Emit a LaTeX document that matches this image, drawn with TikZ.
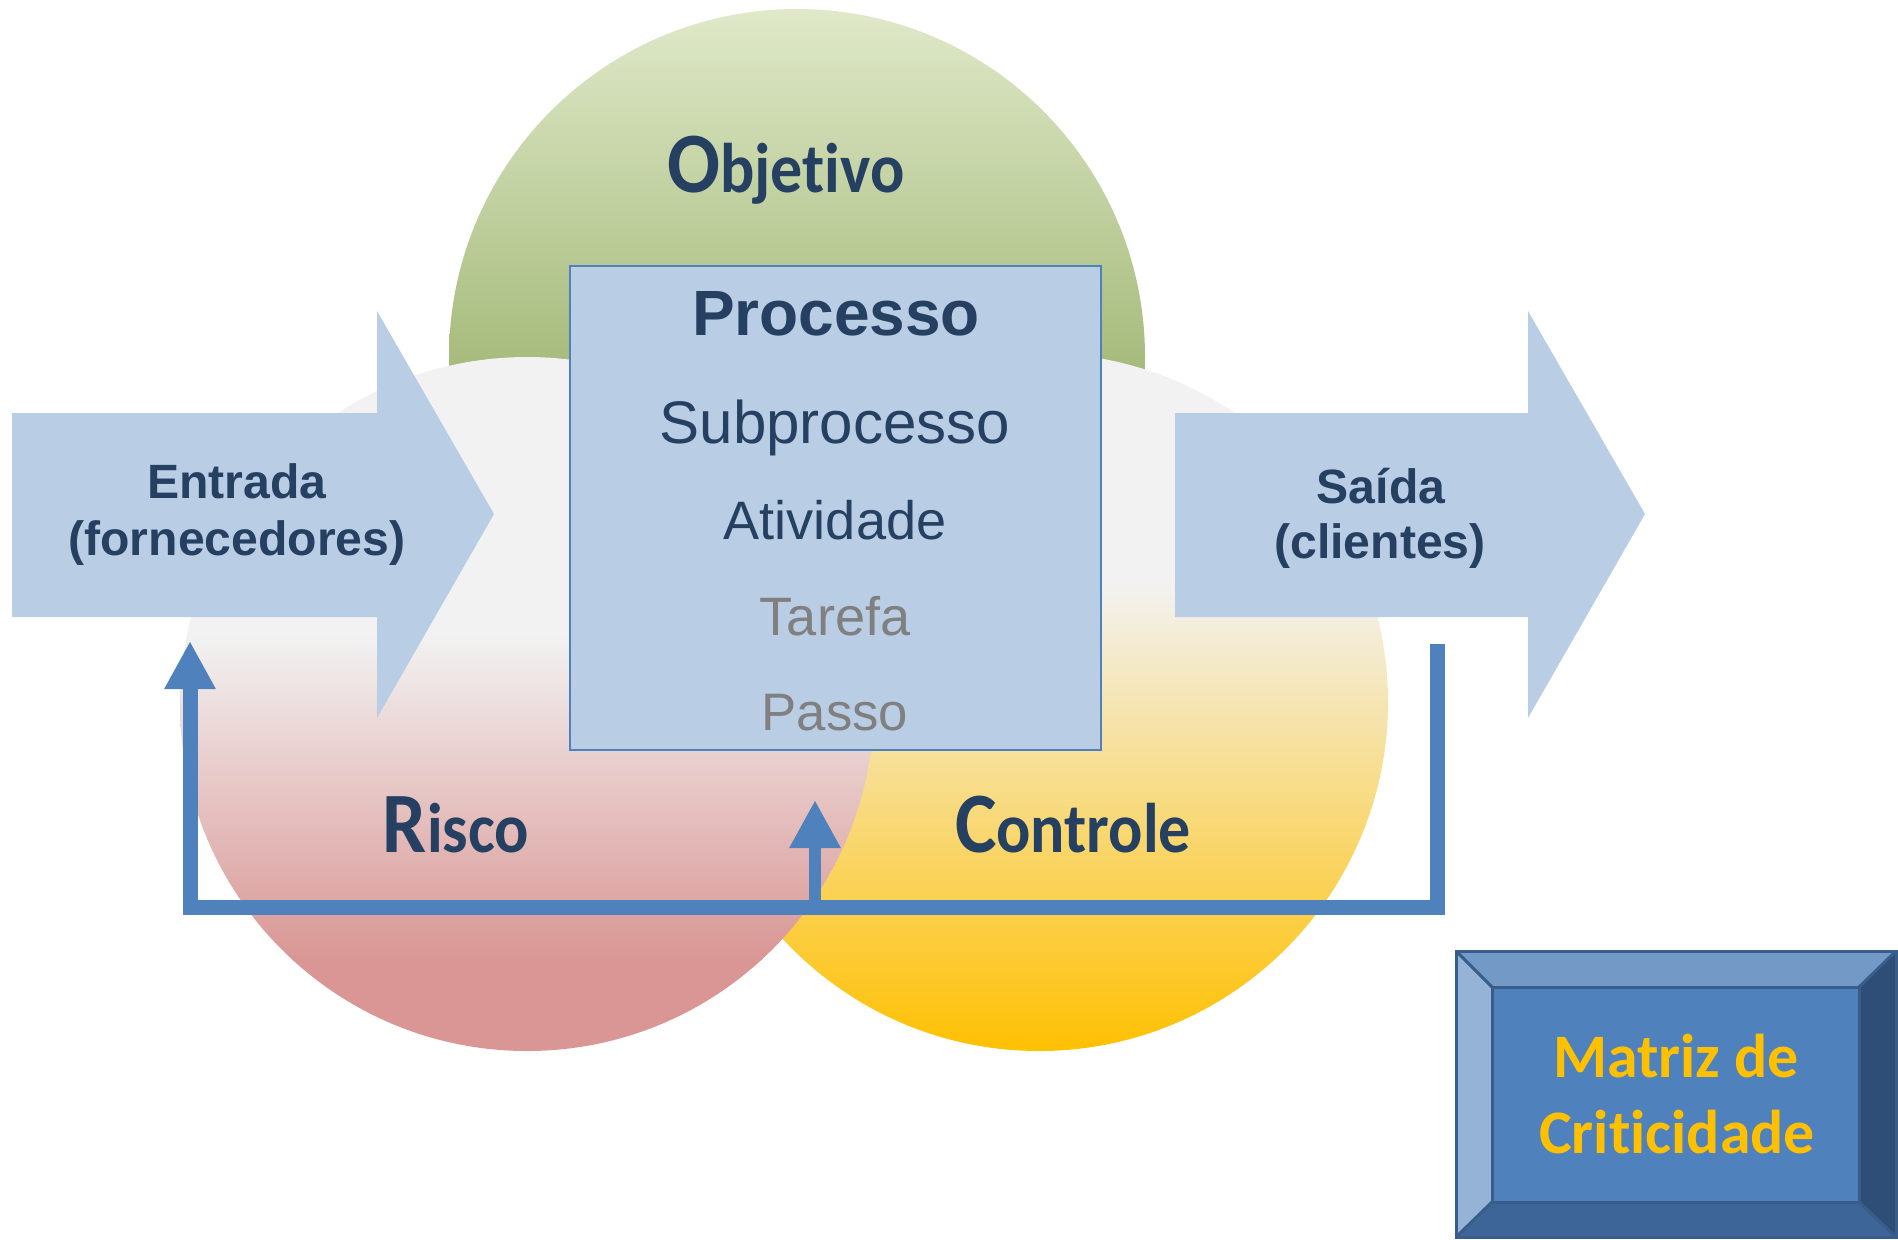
\documentclass[tikz,border=0pt]{standalone}
\usepackage{fontspec}
\setmainfont{Liberation Sans}
\newfontfamily\calibri[Ligatures=NoCommon]{Carlito}
\newfontfamily\calibriN[FakeStretch=0.91,Ligatures=NoCommon]{Carlito}
\usetikzlibrary{arrows.meta}
\definecolor{navy}{HTML}{254061}
\definecolor{graytxt}{HTML}{808080}
\definecolor{pale}{HTML}{B9CDE5}
\definecolor{accent}{HTML}{4F81BD}
\definecolor{gold}{HTML}{FFC000}
\definecolor{greenTop}{HTML}{E0E9CA}
\definecolor{greenBot}{HTML}{A6BB7C}
\definecolor{lightgray}{HTML}{F2F2F2}
\definecolor{rose}{HTML}{D99694}
\definecolor{bevTop}{HTML}{7399C6}
\definecolor{bevLeft}{HTML}{95B3D7}
\definecolor{bevRight}{HTML}{2F4E77}
\definecolor{bevBot}{HTML}{3E6597}
\definecolor{bevEdge}{HTML}{385D8A}
\tikzset{
  lbl/.style={anchor=base, inner sep=0pt, outer sep=0pt},
  blockarrow/.style={fill=pale, draw=none},
  pbox/.style={draw=accent, line width=0.2mm, fill=pale, inner sep=0pt, outer sep=0pt},
  fbline/.style={draw=accent, line width=1.5mm, line join=miter},
  fbtip/.style={-{Triangle[length=4.8mm,width=4.8mm]}},
  facet/.style={draw=bevEdge, line width=0.3mm, line join=miter}
}
\begin{document}
\begin{tikzpicture}[x=0.1mm,y=-0.1mm]
\useasboundingbox (0,0) rectangle (1898,1239);

% Objetivo circle
\begin{scope}
  \clip (797,357) circle[radius=34.8mm];
  \shade[top color=greenTop, bottom color=greenBot] (440,5) rectangle (1160,367);
  \fill[greenBot] (440,366) rectangle (1160,712);
\end{scope}

% Controle circle
\begin{scope}
  \clip (1039,702) circle[radius=34.9mm];
  \fill[lightgray] (680,345) rectangle (1400,581);
  \shade[top color=lightgray, bottom color=gold] (680,580) rectangle (1400,1055);
\end{scope}

% Risco circle
\begin{scope}
  \clip (527,704) circle[radius=34.7mm];
  \fill[lightgray] (170,350) rectangle (880,636);
  \shade[top color=lightgray, bottom color=rose] (170,635) rectangle (880,960);
  \fill[rose] (170,959) rectangle (880,1060);
\end{scope}

% circle labels
\node[lbl, text=navy] (objetivo) at (786,192)
  {\calibriN\bfseries\fontsize{24.5}{24.5}\selectfont O\fontsize{20}{20}\selectfont bjetivo};
\node[lbl, text=navy] (risco) at (456,852)
  {\calibriN\bfseries\fontsize{24.5}{24.5}\selectfont R\fontsize{20}{20}\selectfont isco};
\node[lbl, text=navy] (controle) at (1073,852)
  {\calibriN\bfseries\fontsize{24.5}{24.5}\selectfont C\fontsize{20}{20}\selectfont ontrole};

% Processo box
\node[pbox, minimum width=53.1mm, minimum height=48.4mm] (processo) at (835.5,508) {};
\node[lbl, text=navy] (tProcesso) at (836,335) {\bfseries\fontsize{18.2}{18.2}\selectfont Processo};
\node[lbl, text=navy] (tSub) at (835,443) {\fontsize{17.1}{17.1}\selectfont Subprocesso};
\node[lbl, text=navy] (tAtiv) at (835,539) {\fontsize{15.4}{15.4}\selectfont Atividade};
\node[lbl, text=graytxt] (tTarefa) at (835,635) {\fontsize{15.4}{15.4}\selectfont Tarefa};
\node[lbl, text=graytxt] (tPasso) at (835,730) {\fontsize{15.0}{15.0}\selectfont Passo};

% Entrada arrow
\fill[blockarrow] (12,413) -- (377,413) -- (377,311) -- (494,514) -- (377,718) -- (377,617) -- (12,617) -- cycle;
\node[lbl, text=navy] (entrada) at (237,498) {\bfseries\fontsize{13.7}{13.7}\selectfont Entrada};
\node[lbl, text=navy] (fornecedores) at (237,555) {\bfseries\fontsize{13.7}{13.7}\selectfont (fornecedores)};

% Saida arrow
\fill[blockarrow] (1175,413) -- (1528,413) -- (1528,311) -- (1645,514) -- (1528,718) -- (1528,617) -- (1175,617) -- cycle;
\node[lbl, text=navy] (saida) at (1381,503) {\bfseries\fontsize{13.7}{13.7}\selectfont Saída};
\node[lbl, text=navy] (clientes) at (1380,558) {\bfseries\fontsize{13.7}{13.7}\selectfont (clientes)};

% feedback connector
\coordinate (saidaFoot) at (1437,644);
\coordinate (fbCorner) at (190,907);
\coordinate (entradaFoot) at (190,641);
\coordinate (midFoot) at (815,901);
\coordinate (midTip) at (815,800);
\draw[fbline, fbtip] (saidaFoot) |- (fbCorner) -- (entradaFoot);
\draw[draw=accent, line width=1.2mm, fbtip] (midFoot) -- (midTip);

% Matriz de Criticidade bevel box
\coordinate (o1) at (1456,951);
\coordinate (o2) at (1896,951);
\coordinate (o3) at (1896,1237);
\coordinate (o4) at (1456,1237);
\coordinate (i1) at (1492,987);
\coordinate (i2) at (1859,987);
\coordinate (i3) at (1859,1202);
\coordinate (i4) at (1492,1202);
\fill[bevTop] (o1) -- (o2) -- (i2) -- (i1) -- cycle;
\fill[bevRight] (o2) -- (o3) -- (i3) -- (i2) -- cycle;
\fill[bevBot] (o3) -- (o4) -- (i4) -- (i3) -- cycle;
\fill[bevLeft] (o4) -- (o1) -- (i1) -- (i4) -- cycle;
\fill[accent] (i1) rectangle (i3);
\draw[facet] (o1) rectangle (o3);
\draw[facet] (i1) rectangle (i3);
\draw[facet] (o1) -- (i1) (o2) -- (i2) (o3) -- (i3) (o4) -- (i4);
\node[lbl, text=gold] (matriz) at (1676,1077) {\calibri\bfseries\fontsize{17.6}{17.6}\selectfont Matriz de};
\node[lbl, text=gold] (criticidade) at (1677,1153) {\calibri\bfseries\fontsize{17.6}{17.6}\selectfont Criticidade};
\end{tikzpicture}
\end{document}
